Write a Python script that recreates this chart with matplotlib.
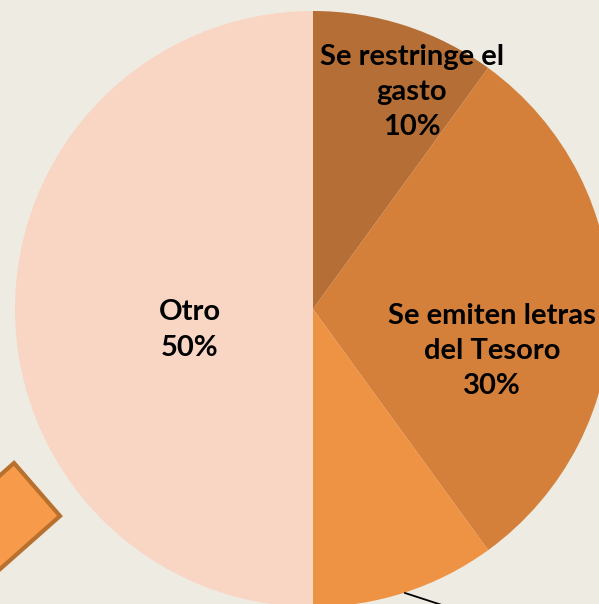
import matplotlib
matplotlib.use('Agg')
import matplotlib.pyplot as plt
from matplotlib.patches import Polygon
from matplotlib.lines import Line2D

# slice data, clockwise from 12 o'clock
labels = ['Se restringe el\ngasto', 'Se emiten letras\ndel Tesoro', '', 'Otro']
values = [10, 30, 10, 50]
colors = ['#B56E35', '#D47F3A', '#EE9244', '#F9D5C3']
label_pos = [(412, 92), (492, 351), None, (190, 330)]   # pixel centres of labels

W, H = 599, 604
cx, cy, r = 313, 309, 298
bg = '#EEEBE2'

fig = plt.figure(figsize=(W / 100, H / 100), dpi=100, facecolor=bg)
ax = fig.add_axes([0, 0, 1, 1])
ax.set_facecolor(bg)

ax.pie(values, colors=colors, startangle=90, counterclock=False,
       radius=1, center=(0, 0), wedgeprops=dict(linewidth=0))

# pie() resets the view, so fix limits afterwards
ax.set_aspect('auto')
ax.set_xlim(-cx / r, (W - cx) / r)
ax.set_ylim(-(H - cy) / r, cy / r)
ax.axis('off')

total = sum(values)
for lab, v, pos in zip(labels, values, label_pos):
    if pos is None:
        continue
    x = (pos[0] - cx) / r
    y = (cy - pos[1]) / r
    ax.text(x, y, f'{lab}\n{v * 100 // total}%', ha='center', va='center',
            fontsize=21, fontweight='bold', family='Lato', color='black',
            linespacing=1.45)

# decorative rotated square at bottom-left (pixel coords)
sq = [(14, 463), (60, 516), (-10, 578), (-56, 525)]
poly = Polygon([(x, H - y) for x, y in sq], closed=True, transform=None,
               facecolor='#F79B4A', edgecolor='#B8702F', linewidth=3)
fig.patches.append(poly)

# leader line at bottom
fig.lines.append(Line2D([405 / W, 445 / W], [1 - 593 / H, 1 - 606 / H],
                        transform=fig.transFigure, color='black', linewidth=1.3))

plt.savefig('out.png', dpi=100, facecolor=bg)
